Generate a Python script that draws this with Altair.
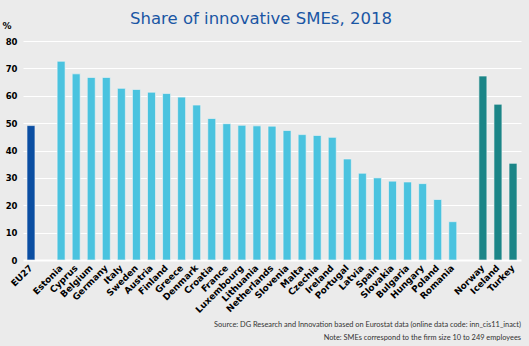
import altair as alt
import pandas as pd

countries = ["EU27", "Estonia", "Cyprus", "Belgium", "Germany", "Italy", "Sweden", "Austria",
             "Finland", "Greece", "Denmark", "Croatia", "France", "Luxembourg", "Lithuania",
             "Netherlands", "Slovenia", "Malta", "Czechia", "Ireland", "Portugal", "Latvia",
             "Spain", "Slovakia", "Bulgaria", "Hungary", "Poland", "Romania",
             "Norway", "Iceland", "Turkey"]
values = [49.1, 72.6, 68.0, 66.7, 66.7, 62.7, 62.3, 61.3, 60.8, 59.5, 56.6, 51.7, 49.8, 49.2,
          49.0, 48.9, 47.3, 45.8, 45.5, 44.8, 36.9, 31.7, 30.0, 28.8, 28.5, 27.9, 22.1, 14.0,
          67.2, 56.9, 35.3]
groups = ["EU"] + ["Member"] * 27 + ["Other"] * 3
y_ticks = [0, 10, 20, 30, 40, 50, 60, 70, 80]

order = ["EU27", "gap1"] + countries[1:28] + ["gap2"] + countries[28:]

df = pd.DataFrame({"country": countries, "value": values, "group": groups})

yaxis = alt.Axis(values=y_ticks, title=None, labelOverlap=False,
                 labelFont="DejaVu Sans", labelFontWeight="bold", labelFontSize=8.5,
                 labelColor="#000000", labelPadding=6, ticks=False, domain=False,
                 gridColor="#ffffff",
                 gridWidth=alt.condition("datum.value == 0", alt.value(2.2), alt.value(1.2)))

bars = alt.Chart(df).mark_bar(stroke="#f2f2f2", strokeWidth=0.8, strokeOpacity=0.8).encode(
    x=alt.X("country:N", sort=order,
            scale=alt.Scale(domain=order, paddingInner=0.47, paddingOuter=0.265),
            axis=alt.Axis(title=None, labelAngle=-45, labelAlign="right", labelBaseline="middle",
                          labelFont="DejaVu Sans", labelFontWeight="bold", labelFontSize=9,
                          labelColor="#000000", labelPadding=6, ticks=False, domain=False,
                          grid=False, labelOverlap=False,
                          labelExpr="indexof(datum.value, 'gap') == 0 ? '' : datum.value")),
    y=alt.Y("value:Q", scale=alt.Scale(domain=[0, 80], nice=False), axis=yaxis),
    color=alt.Color("group:N", scale=alt.Scale(domain=["EU", "Member", "Other"],
                                                range=["#0b4ea2", "#4ac3df", "#1b8587"]),
                    legend=None),
)

texts = pd.DataFrame({
    "t": ["Source: DG Research and Innovation based on Eurostat data (online data code: inn_cis11_inact)",
          "Note: SMEs correspond to the firm size 10 to 249  employees",
          "%"],
})
note1 = alt.Chart(texts.iloc[[0]]).mark_text(align="right", baseline="alphabetic", font="Lato",
                                             fontSize=7.4, color="#333333").encode(
    text="t:N", x=alt.value(498), y=alt.value(286))
note2 = alt.Chart(texts.iloc[[1]]).mark_text(align="right", baseline="alphabetic", font="Lato",
                                             fontSize=7.4, color="#333333").encode(
    text="t:N", x=alt.value(498), y=alt.value(299))
unit = alt.Chart(texts.iloc[[2]]).mark_text(align="center", baseline="middle", font="DejaVu Sans",
                                            fontSize=9, fontWeight="bold", color="#000000").encode(
    text="t:N", x=alt.value(-16), y=alt.value(-15))

chart = alt.layer(bars, note1, note2, unit).properties(
    width=498, height=219,
    title=alt.TitleParams("Share of innovative SMEs, 2018", font="DejaVu Sans", fontSize=16.5,
                          fontWeight="normal", color="#1a56a4", anchor="middle", dx=-11,
                          offset=0, dy=5),
    background="#ebebeb",
    padding={"left": 23, "top": 41, "right": 8, "bottom": 86},
    autosize=alt.AutoSizeParams(type="none"),
).configure_view(stroke=None)

chart.save("out.html", embed_options={"renderer": "svg", "actions": False})
